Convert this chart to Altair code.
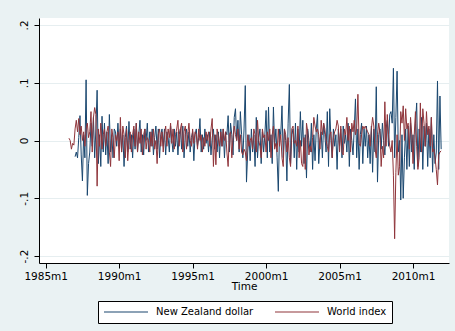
import altair as alt
import pandas as pd

# Monthly returns (approximate)
nzd_start = (1987, 1)
nzd = [
    -0.028, -0.020, -0.030, 0.005, 0.043, -0.025, -0.070, 0.010, -0.030, 0.105, -0.095, -0.040,  # 1987
    -0.020, 0.030, -0.010, 0.040, -0.030, 0.020, 0.087, -0.040, 0.010, -0.045, 0.042, -0.020,  # 1988
    0.030, -0.025, 0.015, -0.040, 0.045, -0.020, 0.010, -0.030, 0.020, 0.015, -0.010, 0.030,  # 1989
    -0.010, 0.020, -0.020, 0.010, -0.045, 0.005, 0.025, -0.020, 0.033, -0.015, 0.010, -0.030,  # 1990
    0.020, -0.015, 0.030, -0.020, 0.010, 0.035, -0.020, 0.010, -0.025, 0.020, 0.000, 0.030,  # 1991
    -0.020, 0.015, -0.010, 0.020, -0.025, 0.005, 0.025, -0.015, 0.020, -0.030, 0.010, 0.020,  # 1992
    -0.010, 0.020, -0.025, 0.015, 0.005, -0.020, 0.025, 0.000, -0.020, 0.020, -0.010, 0.015,  # 1993
    -0.025, 0.010, 0.020, -0.015, 0.025, -0.030, 0.010, 0.020, -0.010, 0.015, -0.020, 0.005,  # 1994
    0.015, -0.035, 0.010, 0.020, -0.010, 0.005, 0.038, -0.020, 0.010, -0.015, 0.020, -0.005,  # 1995
    0.010, -0.020, 0.015, -0.025, 0.005, 0.020, -0.015, 0.010, -0.020, 0.015, -0.030, 0.020,  # 1996
    -0.010, 0.020, -0.030, 0.015, 0.010, 0.043, -0.020, 0.030, 0.010, -0.025, 0.040, 0.055,  # 1997
    0.000, 0.035, -0.020, 0.050, 0.010, -0.030, 0.020, 0.095, -0.072, -0.020, 0.010, -0.035,  # 1998
    0.020, -0.020, 0.010, -0.045, 0.040, -0.030, 0.005, 0.020, -0.040, 0.015, -0.020, 0.010,  # 1999
    0.052, -0.030, 0.058, -0.020, 0.010, -0.040, 0.058, -0.010, 0.020, -0.030, -0.088, 0.020,  # 2000
    0.010, 0.060, -0.030, 0.020, 0.000, -0.070, 0.030, 0.097, -0.040, 0.010, 0.020, -0.030,  # 2001
    0.030, -0.050, 0.020, -0.020, 0.050, -0.010, 0.035, -0.040, 0.010, -0.065, 0.020, 0.000,  # 2002
    -0.020, 0.030, -0.050, 0.010, -0.035, 0.020, 0.045, -0.040, 0.000, 0.015, -0.030, 0.030,  # 2003
    0.010, -0.020, 0.050, -0.045, 0.055, 0.000, -0.030, 0.020, -0.010, 0.010, -0.050, 0.020,  # 2004
    -0.010, 0.020, -0.030, 0.025, -0.005, 0.010, -0.020, 0.030, -0.045, 0.020, 0.000, -0.025,  # 2005
    0.020, 0.072, -0.030, 0.020, -0.050, 0.010, 0.030, -0.040, 0.020, -0.010, 0.025, -0.030,  # 2006
    0.010, -0.040, 0.025, -0.055, 0.020, -0.020, 0.093, -0.072, 0.010, 0.020, -0.015, 0.030,  # 2007
    0.000, -0.025, 0.020, 0.035, -0.010, 0.045, 0.050, 0.030, 0.125, -0.030, 0.040, 0.120,  # 2008
    -0.020, 0.000, -0.103, 0.010, -0.100, -0.030, 0.020, -0.050, 0.025, -0.045, 0.030, -0.020,  # 2009
    0.010, -0.050, 0.030, 0.065, -0.045, 0.020, -0.020, 0.040, -0.050, 0.025, -0.010, 0.030,  # 2010
    -0.045, 0.020, -0.030, 0.040, -0.055, 0.010, -0.040, -0.020, 0.103, -0.050, 0.077, -0.015,  # 2011
]

world_start = (1986, 8)
world = [
    0.004, 0.000, -0.015, -0.005, -0.008,  # 1986 m8-m12
    0.020, 0.035, 0.015, 0.038, 0.010, 0.025, 0.000, 0.015, -0.010, 0.020, 0.030, 0.005,  # 1987
    0.015, 0.050, -0.020, 0.040, 0.057, 0.045, -0.079, 0.020, -0.010, 0.030, -0.015, 0.010,  # 1988
    0.020, -0.010, 0.015, 0.025, -0.020, -0.045, 0.020, 0.005, -0.030, 0.010, 0.000, 0.015,  # 1989
    -0.035, 0.040, -0.020, 0.025, 0.010, -0.030, 0.020, -0.035, 0.000, 0.015, -0.020, 0.010,  # 1990
    0.025, -0.010, 0.030, -0.020, 0.015, -0.005, 0.020, -0.025, 0.010, 0.020, -0.015, 0.005,  # 1991
    0.000, -0.020, 0.015, -0.010, 0.020, -0.015, 0.000, -0.040, 0.010, 0.020, -0.010, 0.015,  # 1992
    -0.020, 0.010, 0.025, -0.010, 0.020, 0.005, 0.030, -0.005, 0.020, -0.015, 0.010, 0.020,  # 1993
    0.035, -0.010, 0.020, 0.030, -0.020, 0.015, 0.025, -0.015, 0.010, 0.030, 0.000, -0.010,  # 1994
    0.020, -0.005, 0.015, 0.010, -0.015, 0.020, 0.000, 0.010, -0.020, 0.005, -0.010, 0.015,  # 1995
    0.000, 0.015, -0.010, 0.020, 0.038, -0.045, 0.010, -0.042, 0.020, 0.005, -0.010, 0.015,  # 1996
    -0.010, 0.020, 0.000, 0.015, -0.020, -0.045, 0.010, 0.015, -0.030, 0.005, 0.025, 0.010,  # 1997
    0.000, 0.020, -0.015, 0.010, -0.020, -0.025, -0.015, -0.020, -0.035, 0.010, -0.010, 0.000,  # 1998
    0.005, -0.015, 0.020, 0.010, -0.020, 0.035, 0.000, -0.010, -0.030, 0.020, 0.005, 0.010,  # 1999
    -0.020, 0.015, 0.000, 0.020, -0.030, 0.010, 0.025, -0.015, -0.005, -0.020, 0.020, -0.010,  # 2000
    0.010, -0.030, -0.045, 0.020, 0.010, -0.020, 0.005, -0.030, -0.045, 0.020, 0.025, -0.005,  # 2001
    0.000, -0.010, 0.025, -0.030, 0.000, -0.040, -0.045, 0.005, -0.050, 0.030, 0.015, -0.025,  # 2002
    -0.010, -0.020, 0.005, 0.040, 0.025, 0.015, 0.020, 0.010, -0.015, 0.035, 0.010, 0.030,  # 2003
    0.020, 0.000, -0.010, -0.020, 0.010, 0.015, -0.030, 0.005, 0.015, 0.020, 0.035, 0.025,  # 2004
    -0.020, 0.025, -0.020, -0.025, 0.020, 0.010, 0.040, 0.000, 0.025, -0.020, 0.030, 0.015,  # 2005
    0.035, 0.010, 0.020, 0.080, -0.005, -0.010, 0.010, 0.025, 0.020, 0.025, 0.020, 0.015,  # 2006
    0.010, -0.010, 0.020, 0.040, 0.025, -0.015, -0.030, 0.010, 0.030, 0.015, -0.045, -0.010,  # 2007
    -0.030, 0.067, -0.010, 0.045, 0.010, -0.010, -0.020, 0.000, -0.060, -0.170, -0.055, 0.010,  # 2008
    -0.060, -0.045, 0.050, 0.030, 0.060, 0.000, 0.055, 0.020, 0.030, -0.015, 0.040, 0.010,  # 2009
    -0.040, 0.010, 0.050, -0.010, -0.050, -0.030, 0.065, -0.020, 0.055, 0.030, -0.010, 0.050,  # 2010
    0.010, 0.025, -0.010, 0.040, -0.020, -0.015, -0.030, -0.050, -0.077, -0.025, -0.020, -0.018,  # 2011
]

series_names = ["New Zealand dollar", "World index"]
series_colors = ["#1A476F", "#90353B"]
x_ticks = [1985, 1990, 1995, 2000, 2005, 2010]
y_ticks = [-0.2, -0.1, 0, 0.1, 0.2]


def to_frame(values, start, name):
    y0, m0 = start
    rows = []
    for i, v in enumerate(values):
        k = (m0 - 1) + i
        rows.append({"t": y0 + k / 12.0, "value": v, "series": name})
    return rows


df = pd.DataFrame(to_frame(nzd, nzd_start, series_names[0]) +
                  to_frame(world, world_start, series_names[1]))

FONT = "DejaVu Sans"

chart = alt.Chart(df).mark_line(strokeWidth=1.0, clip=True).encode(
    x=alt.X("t:Q",
            scale=alt.Scale(domain=[1984.544, 2012.45], nice=False, zero=False),
            axis=alt.Axis(values=x_ticks, labelExpr="datum.value + 'm1'",
                          title="Time", grid=False, tickSize=5, labelPadding=3,
                          titlePadding=0, labelFlush=False, labelOverlap=False)),
    y=alt.Y("value:Q",
            scale=alt.Scale(domain=[-0.212, 0.212], nice=False, zero=False),
            axis=alt.Axis(values=y_ticks, title=None, grid=True,
                          labelExpr="datum.value == 0 ? '0' : (datum.value < 0 ? '-' : '') + replace(format(abs(datum.value), '.1f'), '0.', '.')",
                          labelAngle=270, labelAlign="center", labelBaseline="bottom",
                          tickSize=5, labelPadding=5, labelFlush=False, labelOverlap=False)),
    color=alt.Color("series:N",
                    scale=alt.Scale(domain=series_names, range=series_colors),
                    legend=alt.Legend(title=None, orient="none", legendX=59, legendY=283,
                                      direction="horizontal", symbolType="stroke",
                                      symbolSize=1936, symbolStrokeWidth=1.2,
                                      clipHeight=12, labelOffset=7, columnPadding=20,
                                      padding=5, fillColor="white", strokeColor="black",
                                      labelFont=FONT, labelFontSize=10, labelColor="black")),
    order=alt.Order("t:Q"),
).properties(
    width=410, height=245,
    autosize=alt.AutoSizeParams(type="none"),
    padding={"left": 39, "top": 18, "right": 6, "bottom": 68},
    background="#EAF2F3",
).configure_view(
    fill="white", stroke=None,
).configure_axis(
    domainColor="black", domainWidth=1, tickColor="black", tickWidth=1,
    labelColor="black", labelFont=FONT, labelFontSize=10.5,
    titleColor="black", titleFont=FONT, titleFontSize=10.5, titleFontWeight="normal",
    gridColor="#E6EEF0", gridWidth=1,
)

chart.save("out.html", embed_options={"renderer": "svg", "actions": False})
